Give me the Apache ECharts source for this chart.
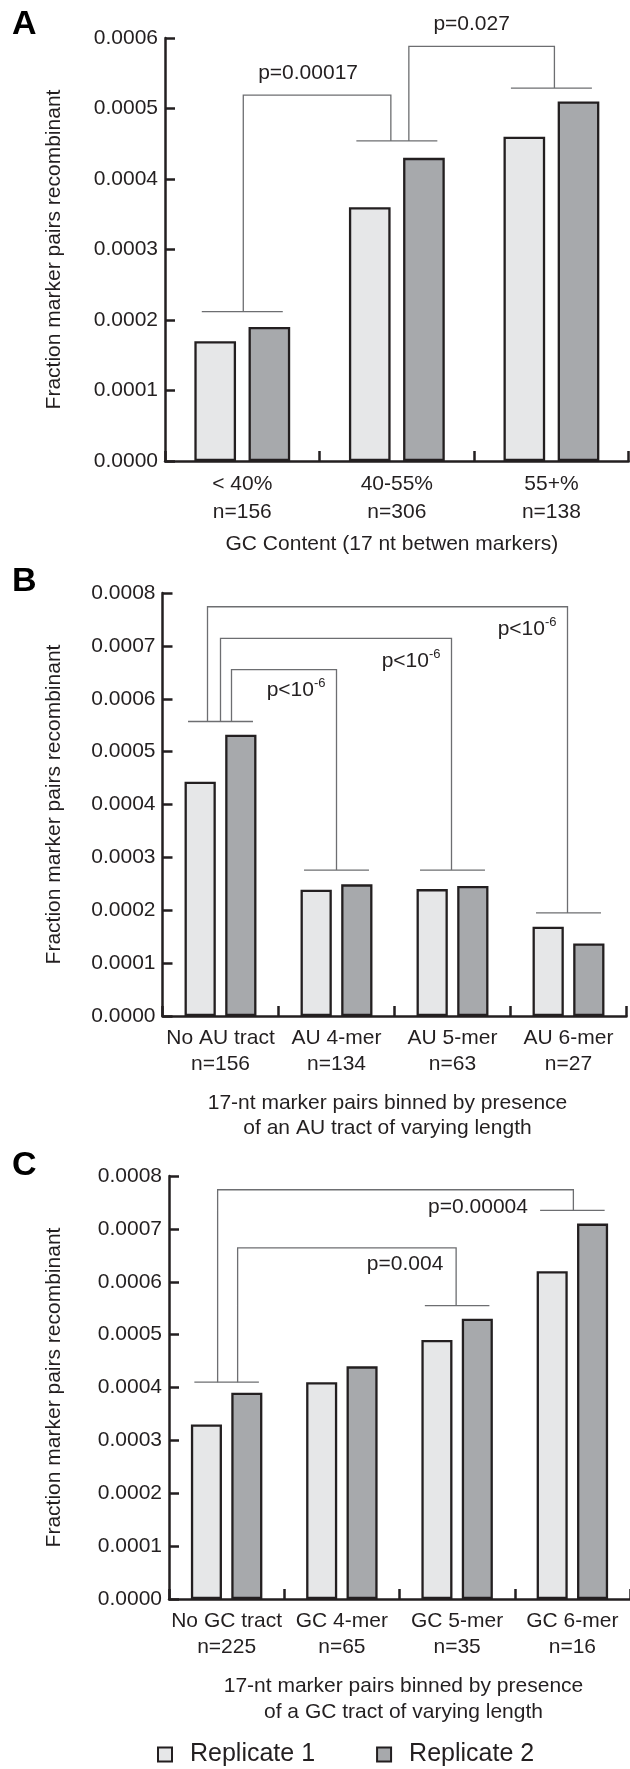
<!DOCTYPE html>
<html>
<head>
<meta charset="utf-8">
<script src="https://cdn.jsdelivr.net/npm/echarts@6/dist/echarts.min.js"></script>
<style>
html,body{margin:0;padding:0;background:#fff;}
#chart{width:630px;height:1769px;}
</style>
</head>
<body>
<div id="chart"></div>
<script>
// ---------- DATA ----------
const seriesNames = ['Replicate 1', 'Replicate 2'];

// Panel A
const aCategories = ['< 40%', '40-55%', '55+%'];
const aCounts = [156, 306, 138];
const aRep1 = [0.00017, 0.00036, 0.00046];
const aRep2 = [0.00019, 0.00043, 0.00051];
const aYMax = 0.0006, aYStep = 0.0001;
const aCaps = [0.000212, 0.000454, 0.000529];
const aBrackets = [[0, 1, 0.000519], [1, 2, 0.000588]];
const aPLabels = ['p=0.00017', 'p=0.027'];
const aXTitle = 'GC Content (17 nt betwen markers)';

// Panel B
const bCategories = ['No AU tract', 'AU 4-mer', 'AU 5-mer', 'AU 6-mer'];
const bCounts = [156, 134, 63, 27];
const bRep1 = [0.000443, 0.000239, 0.00024, 0.000169];
const bRep2 = [0.000532, 0.000249, 0.000246, 0.000137];
const bYMax = 0.0008, bYStep = 0.0001;
const bCaps = [0.000557, 0.000276, 0.000276, 0.000195];
const bBrackets = [[0, 1, 0.000655], [0, 2, 0.000714], [0, 3, 0.000774]];
const bPLabels = ['{m|p<10}{s|-6}', '{m|p<10}{s|-6}', '{m|p<10}{s|-6}'];
const bXTitle = '17-nt marker pairs binned by presence\nof an AU tract of varying length';

// Panel C
const cCategories = ['No GC tract', 'GC 4-mer', 'GC 5-mer', 'GC 6-mer'];
const cCounts = [225, 65, 35, 16];
const cRep1 = [0.00033, 0.00041, 0.00049, 0.00062];
const cRep2 = [0.00039, 0.00044, 0.00053, 0.00071];
const cYMax = 0.0008, cYStep = 0.0001;
const cCaps = [0.00041, null, 0.000555, 0.000735];
const cBrackets = [[0, 2, 0.000664], [0, 3, 0.000774]];
const cPLabels = ['p=0.004', 'p=0.00004'];
const cXTitle = '17-nt marker pairs binned by presence\nof a GC tract of varying length';

const yTitle = 'Fraction marker pairs recombinant';

// ---------- STYLE / LAYOUT ----------
const FONT = "'Liberation Sans', Arial, Helvetica, sans-serif";
const INK = '#231f20';
const C1 = '#e6e7e8', C2 = '#a7a9ac';
const BR = '#6d6e71';

const panels = [
  {letter: 'A', letterY: 25, cats: aCategories, n: aCounts, r1: aRep1, r2: aRep2, yMax: aYMax, yStep: aYStep,
   caps: aCaps, brackets: aBrackets, pl: aPLabels, xTitle: aXTitle,
   grid: {left: 165, right: 1.3, top: 38, height: 423},
   labLH: 28.5, labMargin: 8.75, nameGap: 70.6, nameLH: 26, namePad: [0, 10, 0, 0],
   yNameGap: 98.5,
   capHalf: 0.262, legs: [[1, -6], [12, 3]], labelMode: 'above', labelDx: [-9, -10], labelDy: [-22, -22]},
  {letter: 'B', letterY: 582, cats: bCategories, n: bCounts, r1: bRep1, r2: bRep2, yMax: bYMax, yStep: bYStep,
   caps: bCaps, brackets: bBrackets, pl: bPLabels, xTitle: bXTitle,
   grid: {left: 162.5, right: 3.5, top: 593, height: 423},
   labLH: 25.6, labMargin: 9.9, nameGap: 74.8, nameLH: 25, namePad: [0, 14, 0, 0],
   yNameGap: 96,
   capHalf: 0.28, legs: [[11, 0], [0, -1], [-13, -1]], labelMode: 'inside', labelDx: [-11, -11, -11], labelDy: [19, 21, 21]},
  {letter: 'C', letterY: 1165.5, cats: cCategories, n: cCounts, r1: cRep1, r2: cRep2, yMax: cYMax, yStep: cYStep,
   caps: cCaps, brackets: cBrackets, pl: cPLabels, xTitle: cXTitle,
   grid: {left: 169, right: -3, top: 1176, height: 423},
   labLH: 25.7, labMargin: 9.85, nameGap: 74.4, nameLH: 25.7, namePad: [0, 0, 0, 8],
   yNameGap: 102.5,
   capHalf: 0.28, legs: [[11, -1], [-9, 1]], labelMode: 'inside', labelDx: [-12.8, -45.4], labelDy: [16, 17]}
];

const chart = echarts.init(document.getElementById('chart'), null, {renderer: 'canvas'});

const grids = [], xAxes = [], yAxes = [], series = [], graphics = [];

panels.forEach((p, i) => {
  grids.push(Object.assign({containLabel: false}, p.grid));
  xAxes.push({
    type: 'category', gridIndex: i,
    data: p.cats.map((c, k) => c + '\nn=' + p.n[k]),
    axisLine: {lineStyle: {color: INK, width: 2.5}},
    axisTick: {show: true, inside: true, length: 10, lineStyle: {color: INK, width: 2.5}},
    axisLabel: {interval: 0, color: INK, fontFamily: FONT, fontSize: 21, lineHeight: p.labLH, margin: p.labMargin},
    name: p.xTitle, nameLocation: 'middle', nameGap: p.nameGap,
    nameTextStyle: {color: INK, fontFamily: FONT, fontSize: 21, lineHeight: p.nameLH, padding: p.namePad},
    splitLine: {show: false}
  });
  yAxes.push({
    type: 'value', gridIndex: i, min: 0, max: p.yMax, interval: p.yStep,
    axisLine: {show: true, lineStyle: {color: INK, width: 2.5}},
    axisTick: {show: true, inside: true, length: 10, lineStyle: {color: INK, width: 2.5}},
    axisLabel: {color: INK, fontFamily: FONT, fontSize: 21, margin: 7, formatter: v => v.toFixed(4)},
    splitLine: {show: false},
    name: yTitle, nameLocation: 'middle', nameGap: p.yNameGap,
    nameTextStyle: {color: INK, fontFamily: FONT, fontSize: 21, lineHeight: 24}
  });
  [p.r1, p.r2].forEach((vals, s) => {
    series.push({
      type: 'bar', name: seriesNames[s], xAxisIndex: i, yAxisIndex: i,
      data: vals, barGap: '30%', barCategoryGap: '38%',
      itemStyle: {color: s === 0 ? C1 : C2, borderColor: INK, borderWidth: 2.3},
      emphasis: {disabled: true}, silent: true
    });
  });
  // caps over categories
  const capData = [];
  p.caps.forEach((v, k) => { if (v !== null) capData.push([k, v]); });
  series.push({
    type: 'custom', name: 'caps' + i, xAxisIndex: i, yAxisIndex: i, silent: true,
    encode: {x: 0, y: 1}, data: capData, z: 5,
    renderItem: (params, api) => {
      const pt = api.coord([api.value(0), api.value(1)]);
      const band = api.size([1, 0])[0];
      const h = band * p.capHalf;
      return {type: 'line', shape: {x1: pt[0] - h, y1: pt[1], x2: pt[0] + h, y2: pt[1]},
              style: {stroke: BR, lineWidth: 1.3}};
    }
  });
  // brackets
  series.push({
    type: 'custom', name: 'brackets' + i, xAxisIndex: i, yAxisIndex: i, silent: true,
    encode: {x: 0, y: 2}, data: p.brackets, z: 5,
    renderItem: (params, api) => {
      const k = params.dataIndex;
      const from = api.value(0), to = api.value(1), top = api.value(2);
      const pf = api.coord([from, p.caps[from]]);
      const pt = api.coord([to, p.caps[to]]);
      const yTop = api.coord([from, top])[1];
      const xf = pf[0] + p.legs[k][0];
      const xt = pt[0] + p.legs[k][1];
      let tx, ty, align;
      if (p.labelMode === 'above') {
        tx = (xf + xt) / 2 + p.labelDx[k]; ty = yTop + p.labelDy[k]; align = 'center';
      } else {
        tx = xt + p.labelDx[k]; ty = yTop + p.labelDy[k]; align = 'right';
      }
      return {type: 'group', children: [
        {type: 'polyline', shape: {points: [[xf, pf[1]], [xf, yTop], [xt, yTop], [xt, pt[1]]]},
         style: {stroke: BR, lineWidth: 1.3, fill: null}},
        {type: 'text', x: tx, y: ty,
         style: {text: p.pl[k], fill: INK, font: '21px ' + FONT, align: align, verticalAlign: 'middle',
                 rich: {m: {fontSize: 21, fontFamily: FONT, fill: INK, lineHeight: 24, verticalAlign: 'bottom'},
                        s: {fontSize: 13, fontFamily: FONT, fill: INK, lineHeight: 24, verticalAlign: 'top'}}}}
      ]};
    }
  });
  graphics.push({type: 'text', left: 12, top: p.letterY - 17,
    style: {text: p.letter, font: 'bold 34px ' + FONT, fill: '#000'}});
});

chart.setOption({
  animation: false,
  backgroundColor: '#fff',
  grid: grids,
  xAxis: xAxes,
  yAxis: yAxes,
  series: series,
  graphic: graphics,
  legend: {
    data: seriesNames, left: 152, top: 1737, itemWidth: 14, itemHeight: 14, itemGap: 61,
    icon: 'rect', selectedMode: false,
    itemStyle: {borderColor: INK, borderWidth: 2},
    textStyle: {color: INK, fontFamily: FONT, fontSize: 25, padding: [0, 0, 0, 13]}
  }
});
</script>
</body>
</html>
